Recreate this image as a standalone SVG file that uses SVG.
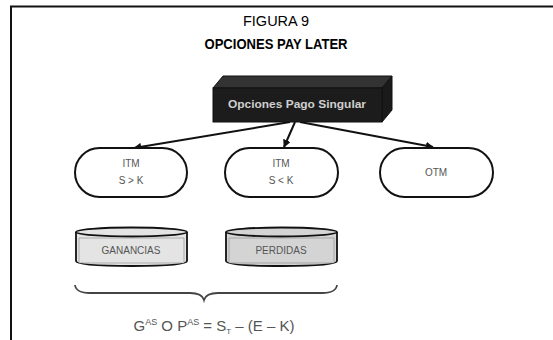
<svg xmlns="http://www.w3.org/2000/svg" width="553" height="340" viewBox="0 0 553 340">
<style>
.t{font-family:"Liberation Sans",Arial,sans-serif;text-anchor:middle}
.pill{fill:#fff;stroke:#111;stroke-width:2}
.pt{font-family:"Liberation Sans",Arial,sans-serif;font-size:10px;fill:#555;text-anchor:middle}
.conn{stroke:#111;stroke-width:2;fill:none;marker-end:url(#ah)}
</style>
<defs>
<marker id="ah" viewBox="0 0 10 10" refX="9" refY="5" markerWidth="4" markerHeight="4" orient="auto"><path d="M0,0 L10,5 L0,10 z" fill="#111"/></marker>
</defs>
<rect width="553" height="340" fill="#fff"/>
<path d="M11,340 V6.5 H553" fill="none" stroke="#111" stroke-width="2"/>
<text class="t" x="276" y="26" font-size="14" textLength="66" lengthAdjust="spacingAndGlyphs">FIGURA 9</text>
<text class="t" x="276" y="49" font-size="14" font-weight="bold" textLength="143" lengthAdjust="spacingAndGlyphs">OPCIONES PAY LATER</text>
<g id="connectors">
<line class="conn" x1="290" y1="122" x2="134" y2="148"/>
<line class="conn" x1="295" y1="122" x2="284" y2="147"/>
<line class="conn" x1="300" y1="122" x2="433" y2="147"/>
</g>
<g id="node-root">
<path d="M213,88 L223,76 L392,76 L382,88 Z" fill="#333" stroke="#111"/>
<path d="M382,88 L392,76 L392,110 L382,122 Z" fill="#1a1a1a" stroke="#111"/>
<rect x="213" y="88" width="169" height="34" fill="#1c1c1c" stroke="#111"/>
<text x="297" y="108" font-family="Liberation Sans,Arial,sans-serif" font-size="11" font-weight="bold" fill="#cfcfcf" text-anchor="middle" textLength="138" lengthAdjust="spacingAndGlyphs">Opciones Pago Singular</text>
</g>
<g id="node-itm1">
<rect class="pill" x="75" y="148" width="112" height="49" rx="24.5"/>
<text class="pt" x="131" y="167">ITM</text>
<text class="pt" x="131" y="184">S &gt; K</text>
</g>
<g id="node-itm2">
<rect class="pill" x="225" y="148" width="113" height="49" rx="24.5"/>
<text class="pt" x="281" y="167">ITM</text>
<text class="pt" x="281" y="184">S &lt; K</text>
</g>
<g id="node-otm">
<rect class="pill" x="380" y="148" width="113" height="49" rx="24.5"/>
<text class="pt" x="436" y="176">OTM</text>
</g>
<g id="node-ganancias">
<path d="M76,232 V261 Q76,266 132,266 Q187,266 187,261 V232" fill="#e4e4e4" stroke="#111" stroke-width="1.8"/>
<ellipse cx="131.5" cy="232" rx="55.5" ry="4.5" fill="#e4e4e4" stroke="#111" stroke-width="1.8"/>
<rect x="79" y="238" width="105" height="25" fill="#e4e4e4" stroke="#888" stroke-width="0.6"/>
<text class="pt" x="131" y="254">GANANCIAS</text>
</g>
<g id="node-perdidas">
<path d="M226,232 V261 Q226,266 282,266 Q337,266 337,261 V232" fill="#d4d4d4" stroke="#111" stroke-width="1.8"/>
<ellipse cx="281.5" cy="232" rx="55.5" ry="4.5" fill="#d4d4d4" stroke="#111" stroke-width="1.8"/>
<rect x="229" y="238" width="105" height="25" fill="#d4d4d4" stroke="#888" stroke-width="0.6"/>
<text class="pt" x="281" y="254">PERDIDAS</text>
</g>
<path d="M75,285 Q76,293 90,293 L190,293 Q202,293 204,300 Q206,293 218,293 L322,293 Q336,293 337,285" fill="none" stroke="#444" stroke-width="1.8"/>
<text x="214" y="331" font-family="Liberation Sans,Arial,sans-serif" font-size="15" fill="#555" text-anchor="middle">G<tspan font-size="9" dy="-6">AS</tspan><tspan dy="6"> O P</tspan><tspan font-size="9" dy="-6">AS</tspan><tspan dy="6"> = S</tspan><tspan font-size="8" dy="3">T</tspan><tspan dy="-3"> – (E – K)</tspan></text>
</svg>
